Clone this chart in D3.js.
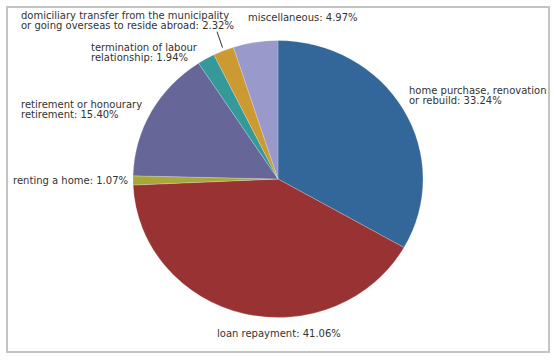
<!DOCTYPE html>
<html>
<head>
<meta charset="utf-8">
<script src="https://cdn.jsdelivr.net/npm/d3@7"></script>
<style>
  html, body { margin: 0; padding: 0; background: #fff; }
  svg { display: block; }
  text { font-family: "DejaVu Sans", Verdana, sans-serif; font-size: 10px; fill: #333; }
</style>
</head>
<body>
<svg id="chart" width="554" height="360"></svg>
<script>
// ---- data ----
const categories = [
  "home purchase, renovation or rebuild",
  "loan repayment",
  "renting a home",
  "retirement or honourary retirement",
  "termination of labour relationship",
  "domiciliary transfer from the municipality or going overseas to reside abroad",
  "miscellaneous"
];
const values = [33.24, 41.06, 1.07, 15.40, 1.94, 2.32, 4.97];
const colors = ["#336699", "#993333", "#a8a83a", "#666699", "#339999", "#cc9933", "#9999cc"];
// label text lines (as shown in chart)
const labelLines = [
  ["home purchase, renovation", "or rebuild: 33.24%"],
  ["loan repayment: 41.06%"],
  ["renting a home: 1.07%"],
  ["retirement or honourary", "retirement: 15.40%"],
  ["termination of labour", "relationship: 1.94%"],
  ["domiciliary transfer from the municipality", "or going overseas to reside abroad: 2.32%"],
  ["miscellaneous: 4.97%"]
];

// ---- layout (not data) ----
const W = 554, H = 360;
const cx = 278, cy = 179, rx = 145, ry = 138.5;
// label placement: x, first baseline y, anchor
const labelLayout = [
  {x: 409, y: 94, anchor: "start"},
  {x: 217, y: 337, anchor: "start"},
  {x: 128, y: 184, anchor: "end"},
  {x: 21,  y: 108, anchor: "start"},
  {x: 91,  y: 51,  anchor: "start"},
  {x: 21,  y: 19,  anchor: "start"},
  {x: 248, y: 21,  anchor: "start"}
];
const lineH = 9.5;

const svg = d3.select("#chart");

// frame
svg.append("rect")
  .attr("x", 7).attr("y", 7).attr("width", 542).attr("height", 345)
  .attr("fill", "#fff").attr("stroke", "#c4c4c4").attr("stroke-width", 2);

const data = categories.map((c, i) => ({cat: c, value: values[i], color: colors[i], lines: labelLines[i], lay: labelLayout[i]}));

const pie = d3.pie().value(d => d.value).sort(null);
const arcs = pie(data);
const arc = d3.arc().innerRadius(0).outerRadius(rx);

const g = svg.append("g")
  .attr("transform", `translate(${cx},${cy}) scale(1,${ry / rx})`);

g.selectAll("path.slice")
  .data(arcs)
  .join("path")
  .attr("class", "slice")
  .attr("d", arc)
  .attr("fill", d => d.data.color)
  .attr("stroke", "rgba(255,255,255,0.35)")
  .attr("stroke-width", 0.6);

// leader line for the domiciliary slice
const dom = arcs[5];
const mid = (dom.startAngle + dom.endAngle) / 2;
const ex = cx + Math.sin(mid) * rx, ey = cy - Math.cos(mid) * ry;
svg.append("line")
  .attr("x1", ex - 1).attr("y1", ey - 3)
  .attr("x2", ex - 6.5).attr("y2", ey - 19)
  .attr("stroke", "#333").attr("stroke-width", 1);

// labels
const labels = svg.selectAll("text.lbl")
  .data(data)
  .join("text")
  .attr("class", "lbl")
  .attr("text-anchor", d => d.lay.anchor)
  .attr("x", d => d.lay.x)
  .attr("y", d => d.lay.y);

labels.selectAll("tspan")
  .data(d => d.lines.map((l, i) => ({l, i, x: d.lay.x})))
  .join("tspan")
  .attr("x", d => d.x)
  .attr("dy", d => d.i === 0 ? 0 : lineH)
  .text(d => d.l);
</script>
</body>
</html>
